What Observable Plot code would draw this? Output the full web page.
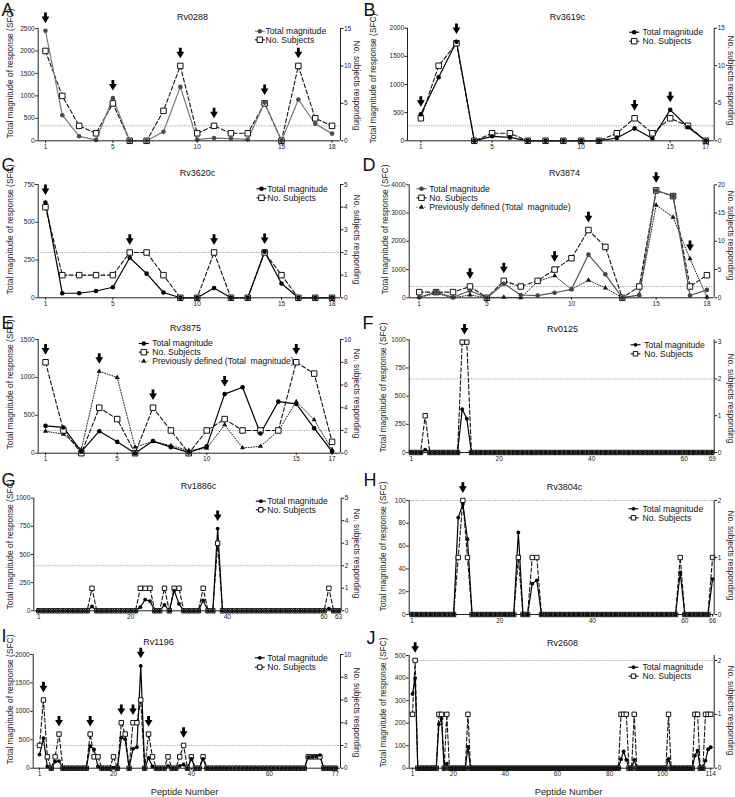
<!DOCTYPE html>
<html><head><meta charset="utf-8">
<script src="https://cdn.jsdelivr.net/npm/d3@7"></script>
<script src="https://cdn.jsdelivr.net/npm/@observablehq/plot@0.6"></script>
<style>
html,body{margin:0;padding:0;background:#fff;}
#root{position:relative;width:735px;height:797px;overflow:hidden;background:#fff;}
#root svg{position:absolute;}
</style></head><body><div id="root"></div>
<script>
// ---------------- data ----------------
const A_total = [2450,570,100,20,950,0,0,200,1200,30,60,50,30,850,0,920,380,160];
const A_subjects = [12,6,2,1,5,0,0,4,10,1,2,1,1,5,0,10,3,2];
const A_arrows = [1,5,9,11,14,16];
const A_yTicks = [0,500,1000,1500,2000,2500];
const A_rTicks = [0,5,10,15];
const A_xTicks = [1,5,10,15,18];

const B_total = [470,1130,1760,0,80,60,0,0,0,0,0,50,220,40,550,240,0];
const B_subjects = [3,10,13,0,1,1,0,0,0,0,0,1,3,1,3,2,0];
const B_arrows = [1,3,13,15];
const B_yTicks = [0,500,1000,1500,2000];
const B_rTicks = [0,5,10,15];
const B_xTicks = [1,5,10,15,17];

const C_total = [630,30,30,45,70,265,160,35,0,0,65,0,0,305,95,0,0,0];
const C_subjects = [4,1,1,1,1,2,2,1,0,0,2,0,0,2,1,0,0,0];
const C_arrows = [1,6,11,14];
const C_yTicks = [0,250,500,750];
const C_rTicks = [0,1,2,3,4,5];
const C_xTicks = [1,5,10,15,18];

const D_total = [20,200,20,250,0,500,100,80,180,300,1530,830,0,100,3800,3600,80,280];
const D_subjects = [1,1,1,2,0,3,2,3,5,7,12,9,0,2,19,18,2,4];
const D_prev = [20,150,0,100,0,20,0,580,780,300,620,350,0,100,3280,2850,1380,30];
const D_arrows = [4,6,9,11,15,17];
const D_yTicks = [0,1000,2000,3000,4000];
const D_rTicks = [0,5,10,15,20];
const D_xTicks = [1,5,10,15,18];

const E_total = [360,340,20,290,150,0,160,80,10,90,780,870,260,680,650,330,20];
const E_subjects = [8,2,0,4,3,0,4,2,0,2,3,2,2,2,8,7,1];
const E_prev = [290,250,50,1080,1000,80,155,100,35,65,375,70,90,295,680,440,45];
const E_arrows = [1,4,7,11,15];
const E_yTicks = [0,500,1000,1500];
const E_rTicks = [0,2,4,6,8,10];
const E_xTicks = [1,5,10,15,17];

const F_n = 66;
const F_peptides = [4,12,13];
const F_total = [25,385,300];
const F_subjects = [1,3,3];
const F_arrows = [12.5];
const F_yTicks = [0,250,500,750,1000];
const F_rTicks = [0,1,2,3];
const F_xTicks = [1,20,40,60,66.1];
const F_xTickLabels = ["1","20","40","60","69"];

const G_n = 63;
const G_peptides = [12,22,23,24,27,29,30,35,38,61];
const G_total = [38,32,100,86,53,180,62,92,730,20];
const G_subjects = [1,1,1,1,1,1,1,1,3,1];
const G_arrows = [38];
const G_yTicks = [0,250,500,750,1000];
const G_rTicks = [0,1,2,3,4,5];
const G_xTicks = [1,20,40,60,63];

const H_n = 66;
const H_peptides = [11,12,13,24,27,28,59,66];
const H_total = [85,97,66,72,27,30,37,31];
const H_subjects = [1,2,1,1,1,1,1,1];
const H_arrows = [12];
const H_yTicks = [0,20,40,60,80,100];
const H_rTicks = [0,1,2];
const H_xTicks = [1,20,40,60,66];

const I_n = 77;
const I_peptides = [1,2,3,5,6,14,15,16,20,22,23,25,26,27,29,30,34,37,38,40,43,70,71,72,73];
const I_total = [240,530,30,115,125,390,330,30,10,540,510,340,370,1800,180,30,40,40,65,165,165,195,200,205,230];
const I_subjects = [2,6,1,1,3,3,1,1,1,4,3,4,4,6,3,1,1,1,2,1,1,1,1,1,1];
const I_arrows = [2,6,14,22,25,27,29,38];
const I_yTicks = [0,500,1000,1500,2000];
const I_rTicks = [0,2,4,6,8,10];
const I_xTicks = [1,20,40,60,77];

const J_n = 114;
const J_peptides = [1,2,11,12,14,22,80,81,82,85,98,108,109,112,113,114];
const J_total = [330,400,195,220,20,95,40,75,38,37,41,56,78,34,84,93];
const J_subjects = [1,2,1,1,1,1,1,1,1,1,1,1,1,1,1,1];
const J_arrows = [2];
const J_yTicks = [0,100,200,300,400,500];
const J_rTicks = [0,1,2];
const J_xTicks = [1,16.5,36.1,55.9,75.7,95.7,114];
const J_xTickLabels = ["1","20","40","60","80","100","114"];

const titles = {A:"Rv0288",B:"Rv3619c",C:"Rv3620c",D:"Rv3874",E:"Rv3875",F:"Rv0125",G:"Rv1886c",H:"Rv3804c",I:"Rv1196",J:"Rv2608"};
const legendLabels = ["Total magnitude","No. Subjects","Previously defined (Total  magnitude)"];
const yLabel = "Total magnitude of response (SFC)";
const rLabel = "No. subjects responding";
const xLabel = "Peptide Number";

// ---------------- helpers ----------------
function expand(n, peptides, values) {
  const a = new Array(n).fill(0);
  peptides.forEach((p, i) => { a[p - 1] = values[i]; });
  return a;
}

const FONT = "'Liberation Sans', Arial, Helvetica, sans-serif";
const arrowSymbol = {draw(c) {
  c.moveTo(-1.4,-6.2); c.lineTo(1.4,-6.2); c.lineTo(1.4,-2.2); c.lineTo(3.9,-2.2);
  c.lineTo(0,4.4); c.lineTo(-3.9,-2.2); c.lineTo(-1.4,-2.2); c.closePath();
}};
const segSymbol = {draw(c) { c.moveTo(-5,0); c.lineTo(5,0); }};

const panels = [
  {id:"A", box:[0,0,362,155], frame:{l:37.7,r:340,t:28,b:140.3}, xDomain:[0.57,18.5],
   yMax:2500, rMax:15, yTicks:A_yTicks, rTicks:A_rTicks, xTicks:A_xTicks,
   total:A_total, subjects:A_subjects, arrows:A_arrows,
   letterAt:[1,15], titleAt:[192,19], yLabelAt:[9.7,73], rLabelAt:[356.7,85],
   legend:{mx:259.3, tx:265, rows:[30.7,39.3]}, totalStroke:"#777", totalFill:"#4a4a4a", big:true},
  {id:"B", box:[362,0,373,155], frame:{l:407,r:713.7,t:27.7,b:140.3}, xDomain:[0.25,17.47],
   yMax:2000, rMax:15, yTicks:B_yTicks, rTicks:B_rTicks, xTicks:B_xTicks,
   total:B_total, subjects:B_subjects, arrows:B_arrows,
   letterAt:[363,15], titleAt:[567,19], yLabelAt:[373,78], rLabelAt:[730,80],
   legend:{mx:633.7, tx:642, rows:[31.7,40.7]}, big:true},
  {id:"C", box:[0,155,362,158], frame:{l:37.7,r:340,t:184,b:297.3}, xDomain:[0.57,18.5],
   yMax:750, rMax:5, yTicks:C_yTicks, rTicks:C_rTicks, xTicks:C_xTicks,
   total:C_total, subjects:C_subjects, arrows:C_arrows,
   letterAt:[1,170], titleAt:[197,175], yLabelAt:[9.7,229], rLabelAt:[356.7,239],
   legend:{mx:261, tx:266.7, rows:[188.3,197.3]}, big:true},
  {id:"D", box:[362,155,373,158], frame:{l:408.7,r:713.7,t:184.3,b:297.3}, xDomain:[0.41,18.43],
   yMax:4000, rMax:20, yTicks:D_yTicks, rTicks:D_rTicks, xTicks:D_xTicks,
   total:D_total, subjects:D_subjects, prev:D_prev, arrows:D_arrows,
   letterAt:[362,170], titleAt:[564,175], yLabelAt:[385,229], rLabelAt:[730,235],
   legend:{mx:421, tx:428.7, rows:[188.3,197.3,206.7]}, totalStroke:"#555", totalFill:"#444", big:true},
  {id:"E", box:[0,313,362,157], frame:{l:37.7,r:340,t:339,b:452.7}, xDomain:[0.59,17.47],
   yMax:1500, rMax:10, yTicks:E_yTicks, rTicks:E_rTicks, xTicks:E_xTicks,
   total:E_total, subjects:E_subjects, prev:E_prev, arrows:E_arrows,
   letterAt:[1,328], titleAt:[185,330], yLabelAt:[9.7,384], rLabelAt:[356.7,393],
   legend:{mx:143.3, tx:151.7, rows:[343,351.7,360.7]}, big:true},
  {id:"F", box:[362,313,373,157], frame:{l:408.7,r:713.7,t:339.3,b:452}, xDomain:[0.54,66.5],
   yMax:1000, rMax:1000/326.4, yTicks:F_yTicks, rTicks:F_rTicks, xTicks:F_xTicks, xTickLabels:F_xTickLabels,
   total:expand(F_n,F_peptides,F_total), subjects:expand(F_n,F_peptides,F_subjects), arrows:F_arrows,
   letterAt:[362,328], titleAt:[562,331], yLabelAt:[383,387], rLabelAt:[730,398],
   legend:{mx:635, tx:643.7, rows:[344.3,353.3]}, big:false},
  {id:"G", box:[0,470,362,158], frame:{l:33.3,r:340.7,t:497.7,b:610.3}, xDomain:[-0.03,63.55],
   yMax:1000, rMax:5, yTicks:G_yTicks, rTicks:G_rTicks, xTicks:G_xTicks,
   total:expand(G_n,G_peptides,G_total), subjects:expand(G_n,G_peptides,G_subjects), arrows:G_arrows,
   letterAt:[1,485], titleAt:[198,488], yLabelAt:[9.7,544], rLabelAt:[356.7,553],
   legend:{mx:260.3, tx:266.7, rows:[500.7,509.3]}, big:false},
  {id:"H", box:[362,470,373,158], frame:{l:408.7,r:713.7,t:500,b:614}, xDomain:[0.4,66.35],
   yMax:100, rMax:2, yTicks:H_yTicks, rTicks:H_rTicks, xTicks:H_xTicks,
   total:expand(H_n,H_peptides,H_total), subjects:expand(H_n,H_peptides,H_subjects), arrows:H_arrows,
   letterAt:[363,485], titleAt:[564,489], yLabelAt:[383,546], rLabelAt:[730,555],
   legend:{mx:633, tx:642, rows:[508.3,517.3]}, big:false},
  {id:"I", box:[0,628,362,169], frame:{l:32.7,r:340,t:654,b:767.7}, xDomain:[-0.63,78.3],
   yMax:2000, rMax:10, yTicks:I_yTicks, rTicks:I_rTicks, xTicks:I_xTicks,
   total:expand(I_n,I_peptides,I_total), subjects:expand(I_n,I_peptides,I_subjects), arrows:I_arrows,
   letterAt:[1,641], titleAt:[158,644], yLabelAt:[9.3,699], rLabelAt:[356.7,712], xLabelAt:[184,794],
   legend:{mx:259.3, tx:266.7, rows:[657.3,666.7]}, big:false},
  {id:"J", box:[362,628,373,169], frame:{l:408.7,r:713.7,t:655,b:767.7}, xDomain:[-0.25,115.3],
   yMax:500, rMax:500/239, yTicks:J_yTicks, rTicks:J_rTicks, xTicks:J_xTicks, xTickLabels:J_xTickLabels,
   total:expand(J_n,J_peptides,J_total), subjects:expand(J_n,J_peptides,J_subjects), arrows:J_arrows,
   letterAt:[366,643], titleAt:[562,645], yLabelAt:[383,702], rLabelAt:[730,710], xLabelAt:[568,794],
   legend:{mx:633, tx:642, rows:[666.7,675.7]}, big:false}
];

function makePanel(p) {
  const [bx, by, bw, bh] = p.box;
  const f = p.frame;
  const k = p.yMax / p.rMax;
  const rows = p.total.map((v, i) => ({x: i + 1, total: v, subj: p.subjects[i] * k, prev: p.prev ? p.prev[i] : null}));
  const maxAt = (x) => d3.max([Math.floor(x), Math.ceil(x)], j => {
    const r = rows[j - 1]; return Math.max(r.total, r.subj, r.prev ?? 0);
  });
  const arrowRows = p.arrows.map(x => ({x, y: maxAt(x)}));
  const at = (px, py) => ({frameAnchor: "top-left", dx: px - f.l, dy: py - f.t});
  const sqR = p.big ? 3.1 : 2.5, dotR = p.big ? 2.3 : 1.9, triR = p.big ? 1.9 : 1.7;
  const tStroke = p.totalStroke || "#000", tFill = p.totalFill || "#000";
  const labelMap = new Map(p.xTicks.map((t, i) => [t, p.xTickLabels ? p.xTickLabels[i] : String(t)]));
  const axisStyle = {tickSize: 2.5, tickPadding: 1, fontSize: 6.5, label: null, color: "#222"};

  const marks = [
    Plot.ruleY([2 * k], {stroke: "#8a8a8a", strokeWidth: 0.8, strokeDasharray: "1.2,1.2"}),
    p.prev ? Plot.line(rows, {x: "x", y: "prev", stroke: "#222", strokeWidth: 1, strokeDasharray: "1,1.6"}) : null,
    Plot.line(rows, {x: "x", y: "subj", stroke: "#111", strokeWidth: 1.1, strokeDasharray: "4,2.4"}),
    Plot.line(rows, {x: "x", y: "total", stroke: tStroke, strokeWidth: 1.2}),
    p.prev ? Plot.dot(rows, {x: "x", y: "prev", symbol: "triangle", r: triR, fill: "#111"}) : null,
    Plot.dot(rows, {x: "x", y: "subj", symbol: "square", r: sqR, fill: "#fff", stroke: "#111", strokeWidth: 1}),
    Plot.dot(rows, {x: "x", y: "total", r: dotR, fill: tFill}),
    Plot.dot(arrowRows, {x: "x", y: "y", symbol: arrowSymbol, r: 3, fill: "#000", stroke: "none", dy: -12}),
    Plot.ruleX(p.xDomain, {y1: 0, y2: p.yMax, stroke: "#222", strokeWidth: 1}),
    Plot.ruleY([0], {stroke: "#222", strokeWidth: 1}),
    Plot.axisY(p.yTicks, {anchor: "left", ...axisStyle, tickFormat: d => String(d)}),
    Plot.axisY(p.rTicks.map(t => t * k), {anchor: "right", ...axisStyle, tickFormat: d => String(+(d / k).toFixed(3))}),
    Plot.axisX(p.xTicks, {anchor: "bottom", ...axisStyle, tickFormat: d => labelMap.get(d)}),
    Plot.text([titles[p.id]], {...at(...p.titleAt), text: d => d, textAnchor: "middle", lineAnchor: "bottom", fontSize: 9, fill: "#111"}),
    Plot.text([p.id], {...at(...p.letterAt), text: d => d, textAnchor: "start", lineAnchor: "bottom", fontSize: 18, fill: "#111"}),
    Plot.text([yLabel], {...at(...p.yLabelAt), text: d => d, rotate: -90, textAnchor: "middle", lineAnchor: "middle", fontSize: 8.4, fill: "#222"}),
    Plot.text([rLabel], {...at(...p.rLabelAt), text: d => d, rotate: 90, textAnchor: "middle", lineAnchor: "middle", fontSize: 8.4, fill: "#222"}),
    p.xLabelAt ? Plot.text([xLabel], {...at(...p.xLabelAt), text: d => d, textAnchor: "middle", lineAnchor: "bottom", fontSize: 9.4, fill: "#222"}) : null
  ];

  const L = p.legend;
  const kinds = p.prev ? [0, 1, 2] : [0, 1];
  kinds.forEach((kind, i) => {
    const y = L.rows[i];
    const lineStyle = kind === 0 ? {stroke: tStroke} : kind === 1 ? {stroke: "#111"} : {stroke: "#222", strokeDasharray: "1,1.6"};
    marks.push(Plot.dot([0], {...at(L.mx, y), symbol: segSymbol, r: 3, fill: "none", strokeWidth: 1.1, ...lineStyle}));
    if (kind === 0) marks.push(Plot.dot([0], {...at(L.mx, y), r: dotR, fill: tFill}));
    if (kind === 1) marks.push(Plot.dot([0], {...at(L.mx, y), symbol: "square", r: sqR, fill: "#fff", stroke: "#111", strokeWidth: 1}));
    if (kind === 2) marks.push(Plot.dot([0], {...at(L.mx, y), symbol: "triangle", r: triR, fill: "#111"}));
    marks.push(Plot.text([legendLabels[kind]], {...at(L.tx, y), text: d => d, textAnchor: "start", lineAnchor: "middle", fontSize: 8.6, fill: "#111"}));
  });

  const svg = Plot.plot({
    width: bw, height: bh,
    marginLeft: f.l - bx, marginRight: bx + bw - f.r,
    marginTop: f.t - by, marginBottom: by + bh - f.b,
    x: {type: "linear", domain: p.xDomain},
    y: {type: "linear", domain: [0, p.yMax]},
    style: {fontFamily: FONT, background: "transparent", overflow: "visible"},
    marks: marks.filter(Boolean)
  });
  svg.style.left = bx + "px";
  svg.style.top = by + "px";
  return svg;
}

const root = document.getElementById("root");
panels.forEach(p => root.append(makePanel(p)));
</script>
</body></html>
